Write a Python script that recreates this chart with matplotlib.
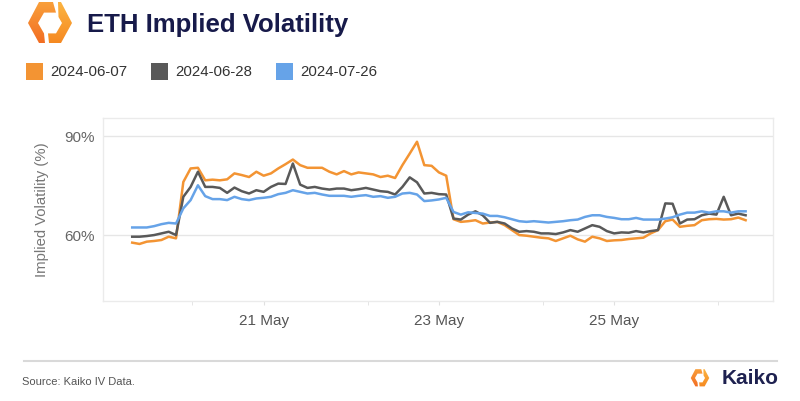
import numpy as np
import pandas as pd
import matplotlib
matplotlib.use("Agg")
import matplotlib.pyplot as plt
import matplotlib.dates as mdates
from matplotlib.patches import Polygon, Rectangle
from matplotlib.lines import Line2D
from matplotlib.colors import LinearSegmentedColormap

plt.rcParams['font.family'] = ['Liberation Sans', 'DejaVu Sans']

# 2-hourly samples, 19 May 12:00 -> 26 May 12:00
times = pd.date_range('2024-05-19 12:00', periods=85, freq='2h')

iv_0607 = [57.7, 57.3, 58.0, 58.2, 58.5, 59.5, 59.0, 76.1, 80.2, 80.4,
           76.6, 76.8, 76.6, 76.9, 78.7, 78.2, 77.6, 79.2, 78.0, 78.7,
           80.2, 81.5, 82.9, 81.2, 80.4, 80.4, 80.4, 79.2, 78.4, 79.4,
           78.4, 79.0, 78.7, 78.4, 77.6, 78.0, 77.3, 81.2, 84.7, 88.3,
           81.2, 81.0, 79.0, 78.0, 64.8, 64.0, 64.2, 64.5, 63.5, 63.8,
           64.0, 63.0, 61.5, 60.0, 59.8, 59.5, 59.2, 59.0, 58.2, 59.0,
           59.8, 58.7, 58.0, 59.5, 59.0, 58.2, 58.4, 58.5, 58.8, 59.0,
           59.2, 60.5, 61.5, 64.2, 64.7, 62.5, 62.8, 63.0, 64.5, 64.8,
           64.9, 64.7, 64.8, 65.3, 64.5]
iv_0628 = [59.5, 59.5, 59.7, 60.0, 60.5, 61.0, 60.0, 71.6, 74.6, 79.2,
           74.6, 74.6, 74.3, 72.8, 74.4, 73.3, 72.6, 73.6, 73.1, 74.6,
           75.6, 75.5, 81.7, 75.3, 74.3, 74.6, 74.1, 73.8, 74.1, 74.1,
           73.6, 73.9, 74.3, 73.8, 73.3, 73.1, 72.3, 74.6, 77.5, 76.0,
           72.6, 72.8, 72.4, 72.3, 65.0, 64.7, 66.2, 67.2, 66.0, 63.7,
           64.0, 63.5, 62.0, 61.0, 61.2, 61.0, 60.5, 60.5, 60.3, 60.8,
           61.5, 61.0, 62.0, 63.0, 62.5, 61.2, 60.5, 60.8, 60.7, 61.2,
           60.8, 61.2, 61.5, 69.6, 69.5, 63.5, 64.7, 64.8, 66.0, 66.5,
           66.2, 71.6, 66.0, 66.5, 66.0]
iv_0726 = [62.3, 62.3, 62.3, 62.7, 63.3, 63.7, 63.5, 68.1, 70.6, 75.1,
           71.8, 70.9, 70.9, 70.6, 71.6, 70.9, 70.6, 71.1, 71.3, 71.6,
           72.4, 72.8, 73.6, 73.1, 72.6, 72.8, 72.3, 71.9, 71.9, 71.9,
           71.6, 71.9, 72.1, 71.6, 71.8, 71.3, 71.6, 72.6, 72.8, 72.3,
           70.3, 70.5, 70.8, 71.3, 67.0, 66.2, 66.9, 66.7, 66.5, 65.8,
           65.8, 65.4, 64.8, 64.2, 64.0, 64.2, 64.0, 63.8, 64.0, 64.2,
           64.5, 64.7, 65.5, 66.0, 66.0, 65.5, 65.2, 64.8, 64.8, 65.2,
           64.7, 64.7, 64.7, 65.0, 65.4, 66.2, 66.8, 66.8, 67.2, 66.8,
           67.2, 67.2, 66.8, 67.2, 67.2]

series_names = ['2024-06-07', '2024-06-28', '2024-07-26']
series_colors = ['#F39433', '#595959', '#66A3E8']
series_data = [iv_0607, iv_0628, iv_0726]

y_ticks = [60, 90]
x_ticks = ['2024-05-21', '2024-05-23', '2024-05-25']

W, H = 800, 401
fig = plt.figure(figsize=(W / 100, H / 100), dpi=100)
fig.patch.set_facecolor('white')

def fx(x):
    return x / W

def fy(y):
    return 1 - y / H

def draw_logo(cx, cy, s):
    # two chevrons forming a hexagon ring, coords in px relative to centre (y down)
    lax = fig.add_axes([fx(cx - 23 * s), fy(cy + 23 * s), 46 * s / W, 46 * s / H])
    lax.set_xlim(-23, 23)
    lax.set_ylim(23, -23)
    lax.axis('off')
    left = [(3, -21), (-11, -21), (-22, 0), (-11, 20), (-5, 20), (-6, 10.4),
            (-12, 0), (-6, -10.4), (6, -10.4)]
    right = [(8, -21), (11, -21), (22, 0), (11, 20), (-1, 20), (-2, 10.4),
             (6, 10.4), (12, 0), (8.5, -6)]
    grads = [['#F9A23C', '#F26A21'], ['#FCB643', '#F5861F']]
    grad = np.linspace(0, 1, 64).reshape(-1, 1)
    for pts, cols in zip([left, right], grads):
        poly = Polygon(pts, closed=True, facecolor='none', edgecolor='none')
        lax.add_patch(poly)
        cmap = LinearSegmentedColormap.from_list('g', cols)
        im = lax.imshow(grad, cmap=cmap, extent=[-23, 23, 23, -23], aspect='auto',
                        interpolation='bilinear')
        im.set_clip_path(poly)

draw_logo(50, 23, 1.0)
fig.text(fx(87), fy(25), 'ETH Implied Volatility', fontsize=18.5, fontweight='bold',
         color='#171A4A', va='center', ha='left')

# legend
leg_x = [26, 151, 276]
for lx, name, col in zip(leg_x, series_names, series_colors):
    fig.patches.append(Rectangle((fx(lx), fy(80)), 17 / W, 17 / H, facecolor=col,
                                 edgecolor='none', transform=fig.transFigure, figure=fig))
    fig.text(fx(lx + 24), fy(71.5), name, fontsize=10.8, color='#333333', va='center', ha='left')

ax = fig.add_axes([fx(103), fy(301), (773 - 103) / W, (301 - 118) / H])
for vals, col, name in zip(series_data, series_colors, series_names):
    ax.plot(times, vals, color=col, lw=1.8, label=name, solid_joinstyle='round')

ax.set_xlim(pd.Timestamp('2024-05-19 04:00'), pd.Timestamp('2024-05-26 19:30'))
ax.set_ylim(40, 95.5)
ax.set_yticks(y_ticks)
ax.set_yticklabels([f'{v}%' for v in y_ticks])
ax.set_xticks(pd.to_datetime(x_ticks))
ax.xaxis.set_major_formatter(mdates.DateFormatter('%d May'))
ax.set_xticks(pd.to_datetime(['2024-05-20 04:30', '2024-05-22 04:30',
                              '2024-05-24 04:30', '2024-05-26 04:30']), minor=True)
ax.grid(axis='y', color='#E6E6E6', lw=1)
ax.set_axisbelow(True)
for sp in ax.spines.values():
    sp.set_color('#EBEBEB')
    sp.set_linewidth(1)
ax.tick_params(axis='y', length=0, labelsize=11, labelcolor='#666666', pad=6)
ax.tick_params(axis='x', which='both', length=3, color='#E0E0E0', labelsize=11,
               labelcolor='#555555', pad=6)
ax.set_ylabel('Implied Volatility (%)', fontsize=10.7, color='#777777', labelpad=11)

# footer
fig.add_artist(Line2D([fx(24), fx(777)], [fy(361), fy(361)], color='#D9D9D9', lw=1.5))
fig.text(fx(22), fy(382), 'Source: Kaiko IV Data.', fontsize=8, color='#555555',
         va='center', ha='left')
draw_logo(700, 378, 0.42)
fig.text(fx(722), fy(379), 'Kaiko', fontsize=15, fontweight='bold', color='#1E2150',
         va='center', ha='left')

fig.savefig('out.png', dpi=100)
